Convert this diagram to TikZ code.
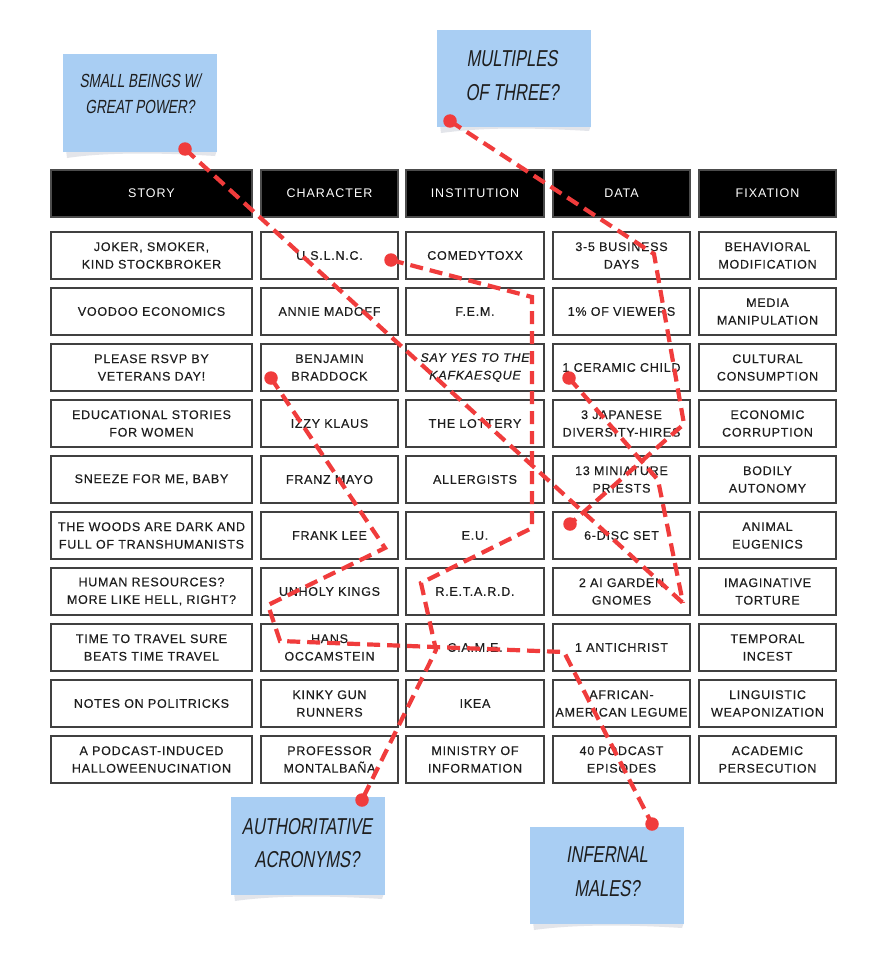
\documentclass[tikz,border=0pt]{standalone}
\usepackage{fontspec}
\setmainfont{Liberation Sans}
\newfontfamily\cellfont[LetterSpace=6,FakeBold=0.35]{Liberation Sans}
\newfontfamily\headfont[LetterSpace=8]{Liberation Sans}
\newfontfamily\handfont[FakeStretch=0.72,FakeSlant=0.16]{Liberation Sans}
\definecolor{notebg}{HTML}{A9CEF3}
\definecolor{noteshadow}{HTML}{E3E5EA}
\definecolor{redline}{HTML}{F03C3C}
\definecolor{ink}{HTML}{1E1E1E}
\pgfdeclarelayer{front}
\pgfsetlayers{main,front}
\begin{document}
\begin{tikzpicture}[x=1pt,y=-1pt,
  cellbase/.style={draw=ink!85, line width=1.2pt, minimum height=47pt, inner sep=0pt,
    align=center, text=ink, font=\cellfont\fontsize{12.5}{17.6}\selectfont},
  wide/.style={cellbase, minimum width=201pt},
  narrow/.style={cellbase, minimum width=137pt},
  headw/.style={wide, fill=black, draw=black!70, text=white, font=\headfont\fontsize{12.5}{17.6}\selectfont},
  headn/.style={narrow, fill=black, draw=black!70, text=white, font=\headfont\fontsize{12.5}{17.6}\selectfont},
  note/.style={fill=notebg, draw=none, minimum width=154pt, minimum height=98pt, inner sep=0pt},
  notetext/.style={align=center, text=ink, inner sep=0pt},
  dot/.style={circle, fill=redline, draw=none, minimum size=13.5pt, inner sep=0pt},
  redpath/.style={draw=redline, line width=4.2pt, dash pattern=on 13pt off 7pt, line join=miter}
]
\useasboundingbox (0,0) rectangle (881,955);
\fill[white] (0,0) rectangle (881,955);

% ---------- sticky notes ----------
\fill[noteshadow] (66,150) -- (217,150) -- (215,156) .. controls (150,152) and (100,153) .. (67,158) -- cycle;
\node[note] (nsmall) at (140,103) {};
\node[notetext, font=\handfont\fontsize{19}{26}\selectfont] (tsmall) at (140,94) {SMALL BEINGS W/\\GREAT POWER?};

\fill[noteshadow] (440,125) -- (591,125) -- (589,131) .. controls (520,127) and (480,128) .. (441,133) -- cycle;
\node[note, minimum height=97pt] (nmult) at (514,78.5) {};
\node[notetext, font=\handfont\fontsize{23}{34}\selectfont] (tmult) at (512,76) {MULTIPLES\\OF THREE?};

\fill[noteshadow] (234,893) -- (384,893) -- (382,899) .. controls (320,895) and (270,896) .. (235,901) -- cycle;
\node[note] (nauth) at (307.5,846) {};
\node[notetext, font=\handfont\fontsize{23}{33}\selectfont] (tauth) at (307,843) {AUTHORITATIVE\\ACRONYMS?};

\fill[noteshadow] (533,922) -- (684,922) -- (682,928) .. controls (620,924) and (570,925) .. (534,930) -- cycle;
\node[note, minimum height=97pt] (ninf) at (607,875.5) {};
\node[notetext, font=\handfont\fontsize{23}{34}\selectfont] (tinf) at (607,872) {INFERNAL\\MALES?};

% ---------- header ----------
\node[headw] (hs) at (151.5,193.5) {STORY};
\node[headn] (hc) at (329.5,193.5) {CHARACTER};
\node[headn, minimum width=138pt] (hi) at (475,193.5) {INSTITUTION};
\node[headn] (hd) at (621.5,193.5) {DATA};
\node[headn] (hf) at (767.5,193.5) {FIXATION};

% ---------- STORY ----------
\node[wide] (s1) at (151.5,255.5) {JOKER, SMOKER,\\KIND STOCKBROKER};
\node[wide] (s2) at (151.5,311.5) {VOODOO ECONOMICS};
\node[wide] (s3) at (151.5,367.5) {PLEASE RSVP BY\\VETERANS DAY!};
\node[wide] (s4) at (151.5,423.5) {EDUCATIONAL STORIES\\FOR WOMEN};
\node[wide] (s5) at (151.5,479.5) {SNEEZE FOR ME, BABY};
\node[wide] (s6) at (151.5,535.5) {THE WOODS ARE DARK AND\\FULL OF TRANSHUMANISTS};
\node[wide] (s7) at (151.5,591.5) {HUMAN RESOURCES?\\MORE LIKE HELL, RIGHT?};
\node[wide] (s8) at (151.5,647.5) {TIME TO TRAVEL SURE\\BEATS TIME TRAVEL};
\node[wide] (s9) at (151.5,703.5) {NOTES ON POLITRICKS};
\node[wide] (s10) at (151.5,759.5) {A PODCAST-INDUCED\\HALLOWEENUCINATION};

% ---------- CHARACTER ----------
\node[narrow] (c1) at (329.5,255.5) {U.S.L.N.C.};
\node[narrow] (c2) at (329.5,311.5) {ANNIE MADOFF};
\node[narrow] (c3) at (329.5,367.5) {BENJAMIN\\BRADDOCK};
\node[narrow] (c4) at (329.5,423.5) {IZZY KLAUS};
\node[narrow] (c5) at (329.5,479.5) {FRANZ MAYO};
\node[narrow] (c6) at (329.5,535.5) {FRANK LEE};
\node[narrow] (c7) at (329.5,591.5) {UNHOLY KINGS};
\node[narrow] (c8) at (329.5,647.5) {HANS\\OCCAMSTEIN};
\node[narrow] (c9) at (329.5,703.5) {KINKY GUN\\RUNNERS};
\node[narrow] (c10) at (329.5,759.5) {PROFESSOR\\MONTALBAÑA};

% ---------- INSTITUTION ----------
\node[narrow, minimum width=138pt] (i1) at (475,255.5) {COMEDYTOXX};
\node[narrow, minimum width=138pt] (i2) at (475,311.5) {F.E.M.};
\node[narrow, minimum width=138pt, font=\cellfont\itshape\fontsize{12.5}{17.6}\selectfont] (i3) at (475,367.5) {SAY YES TO THE\\KAFKAESQUE};
\node[narrow, minimum width=138pt] (i4) at (475,423.5) {THE LOTTERY};
\node[narrow, minimum width=138pt] (i5) at (475,479.5) {ALLERGISTS};
\node[narrow, minimum width=138pt] (i6) at (475,535.5) {E.U.};
\node[narrow, minimum width=138pt] (i7) at (475,591.5) {R.E.T.A.R.D.};
\node[narrow, minimum width=138pt] (i8) at (475,647.5) {C.A.M.E.};
\node[narrow, minimum width=138pt] (i9) at (475,703.5) {IKEA};
\node[narrow, minimum width=138pt] (i10) at (475,759.5) {MINISTRY OF\\INFORMATION};

% ---------- DATA ----------
\node[narrow] (d1) at (621.5,255.5) {3-5 BUSINESS\\DAYS};
\node[narrow] (d2) at (621.5,311.5) {1\% OF VIEWERS};
\node[narrow] (d3) at (621.5,367.5) {1 CERAMIC CHILD};
\node[narrow] (d4) at (621.5,423.5) {3 JAPANESE\\DIVERSITY-HIRES};
\node[narrow] (d5) at (621.5,479.5) {13 MINIATURE\\PRIESTS};
\node[narrow] (d6) at (621.5,535.5) {6-DISC SET};
\node[narrow] (d7) at (621.5,591.5) {2 AI GARDEN\\GNOMES};
\node[narrow] (d8) at (621.5,647.5) {1 ANTICHRIST};
\node[narrow] (d9) at (621.5,703.5) {AFRICAN-\\AMERICAN LEGUME};
\node[narrow] (d10) at (621.5,759.5) {40 PODCAST\\EPISODES};

% ---------- FIXATION ----------
\node[narrow] (f1) at (767.5,255.5) {BEHAVIORAL\\MODIFICATION};
\node[narrow] (f2) at (767.5,311.5) {MEDIA\\MANIPULATION};
\node[narrow] (f3) at (767.5,367.5) {CULTURAL\\CONSUMPTION};
\node[narrow] (f4) at (767.5,423.5) {ECONOMIC\\CORRUPTION};
\node[narrow] (f5) at (767.5,479.5) {BODILY\\AUTONOMY};
\node[narrow] (f6) at (767.5,535.5) {ANIMAL\\EUGENICS};
\node[narrow] (f7) at (767.5,591.5) {IMAGINATIVE\\TORTURE};
\node[narrow] (f8) at (767.5,647.5) {TEMPORAL\\INCEST};
\node[narrow] (f9) at (767.5,703.5) {LINGUISTIC\\WEAPONIZATION};
\node[narrow] (f10) at (767.5,759.5) {ACADEMIC\\PERSECUTION};

% ---------- dots (front layer) ----------
\begin{pgfonlayer}{front}
\node[dot] (pA) at (185,149) {};
\node[dot] (pB) at (450,121) {};
\node[dot] (pC) at (569,378) {};
\node[dot] (pD) at (391,260) {};
\node[dot] (pE) at (271,378) {};
\node[dot] (pBend) at (570,524) {};
\node[dot] (pAuth) at (362,800) {};
\node[dot] (pInf) at (652,824) {};
\end{pgfonlayer}

% ---------- bend points ----------
\coordinate (tipAC) at (683,603);
\coordinate (b1) at (654,254);
\coordinate (b2) at (684,424);
\coordinate (c1b) at (658,480);
\coordinate (d1b) at (532,297);
\coordinate (d2b) at (532,528);
\coordinate (d3b) at (421,583);
\coordinate (d4b) at (436,650);
\coordinate (e1b) at (385,548);
\coordinate (e2b) at (268,605);
\coordinate (e3b) at (280,641);
\coordinate (e4b) at (564,652);

% ---------- red dashed connectors ----------
\draw[redpath] (pA.center) -- (tipAC);
\draw[redpath] (pB.center) -- (b1) -- (b2) -- (pBend.center);
\draw[redpath] (pC.center) -- (c1b) -- (tipAC);
\draw[redpath] (pD.center) -- (d1b) -- (d2b) -- (d3b) -- (d4b) -- (pAuth.center);
\draw[redpath] (pE.center) -- (e1b) -- (e2b) -- (e3b) -- (e4b) -- (pInf.center);
\end{tikzpicture}
\end{document}
